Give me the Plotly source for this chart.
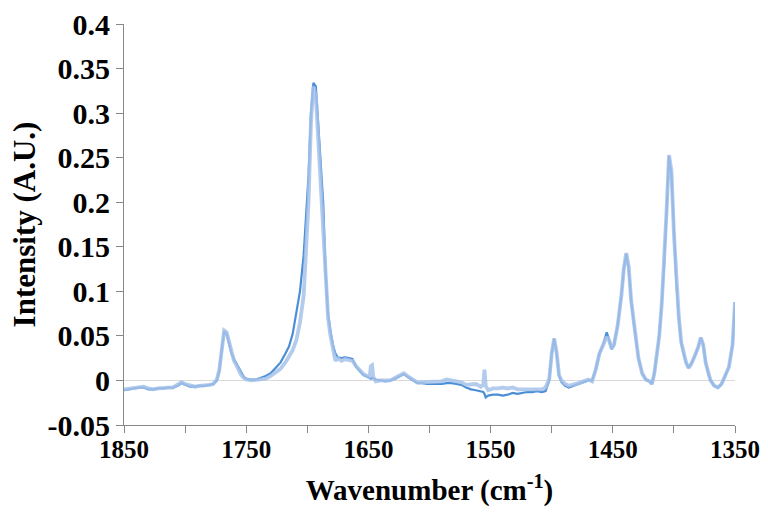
import plotly.graph_objects as go

wavenumber = [
    1850, 1846, 1842, 1838, 1834, 1830, 1826, 1822, 1818, 1814,
    1810, 1806, 1803, 1800, 1796, 1792, 1788, 1784, 1780, 1777,
    1774, 1772, 1770, 1768, 1766, 1764, 1762, 1760, 1758, 1756,
    1754, 1752, 1750, 1746, 1742, 1738, 1734, 1730, 1726, 1722,
    1718, 1715, 1712, 1709, 1706, 1703, 1701, 1699, 1697, 1695,
    1693, 1691, 1689, 1687, 1685, 1683, 1681, 1679, 1677, 1675,
    1672, 1669, 1666, 1663, 1660, 1657, 1654, 1651, 1649, 1648,
    1647, 1646, 1644, 1640, 1636, 1632, 1628, 1624, 1621, 1618,
    1614, 1610, 1606, 1602, 1598, 1594, 1590, 1586, 1582, 1578,
    1574, 1570, 1566, 1562, 1558, 1556, 1555, 1554, 1552, 1548,
    1544, 1540, 1536, 1532, 1528, 1524, 1520, 1516, 1512, 1508,
    1505, 1502, 1500, 1498, 1496, 1494, 1492, 1489, 1486, 1482,
    1478, 1474, 1470, 1467, 1464, 1461, 1458, 1455, 1453, 1451,
    1449, 1446, 1443, 1441, 1439, 1437, 1435, 1432, 1429, 1426,
    1423, 1420, 1418, 1416, 1414, 1412, 1410, 1408, 1406, 1404,
    1402, 1400, 1398, 1396, 1394, 1392, 1390, 1388, 1386, 1384,
    1382, 1380, 1378, 1376, 1374, 1372, 1370, 1367, 1364, 1361,
    1358, 1355, 1352, 1350,
]

spectrum_dark = [
    -0.011, -0.010, -0.009, -0.008, -0.008, -0.010, -0.010, -0.009, -0.009, -0.008,
    -0.008, -0.006, -0.003, -0.005, -0.007, -0.007, -0.006, -0.006, -0.005, -0.004,
    0.000, 0.010, 0.035, 0.055, 0.052, 0.040, 0.030, 0.024, 0.019, 0.013,
    0.008, 0.004, 0.002, 0.001, 0.001, 0.003, 0.005, 0.008, 0.014, 0.020,
    0.030, 0.038, 0.052, 0.075, 0.100, 0.140, 0.180, 0.230, 0.300, 0.334,
    0.330, 0.290, 0.250, 0.200, 0.120, 0.075, 0.055, 0.040, 0.030, 0.026,
    0.025, 0.026, 0.025, 0.024, 0.015, 0.010, 0.006, 0.004, 0.003, 0.002,
    0.003, 0.002, 0.001, 0.000, -0.001, 0.000, 0.002, 0.005, 0.007, 0.004,
    0.000, -0.003, -0.003, -0.004, -0.004, -0.004, -0.004, -0.003, -0.003, -0.004,
    -0.005, -0.008, -0.010, -0.011, -0.012, -0.013, -0.015, -0.019, -0.017, -0.016,
    -0.016, -0.017, -0.016, -0.014, -0.015, -0.014, -0.013, -0.013, -0.012, -0.013,
    -0.012, 0.000, 0.030, 0.047, 0.030, 0.005, -0.002, -0.006, -0.008, -0.006,
    -0.004, -0.002, 0.000, 0.000, 0.012, 0.030, 0.040, 0.054, 0.046, 0.035,
    0.040, 0.062, 0.095, 0.125, 0.142, 0.125, 0.090, 0.055, 0.025, 0.008,
    0.001, -0.001, -0.004, 0.008, 0.027, 0.050, 0.085, 0.130, 0.190, 0.252,
    0.230, 0.160, 0.110, 0.070, 0.042, 0.030, 0.020, 0.014, 0.018, 0.024,
    0.030, 0.038, 0.048, 0.040, 0.020, 0.008, 0.000, -0.006, -0.008, -0.004,
    0.005, 0.015, 0.040, 0.088,
]

spectrum_light = [
    -0.010, -0.009, -0.008, -0.007, -0.007, -0.009, -0.010, -0.009, -0.008, -0.008,
    -0.008, -0.005, -0.002, -0.004, -0.006, -0.007, -0.006, -0.006, -0.005, -0.004,
    0.001, 0.012, 0.038, 0.056, 0.054, 0.042, 0.030, 0.022, 0.017, 0.011,
    0.006, 0.003, 0.001, 0.000, 0.001, 0.001, 0.002, 0.005, 0.009, 0.013,
    0.020, 0.027, 0.034, 0.045, 0.065, 0.095, 0.140, 0.200, 0.290, 0.330,
    0.320, 0.270, 0.220, 0.170, 0.110, 0.070, 0.050, 0.038, 0.022, 0.025,
    0.022, 0.024, 0.023, 0.022, 0.016, 0.011, 0.007, 0.005, 0.004, 0.016,
    0.017, 0.004, -0.001, 0.000, 0.000, 0.000, 0.003, 0.006, 0.008, 0.005,
    0.001, -0.002, -0.002, -0.002, -0.002, -0.001, -0.001, 0.001, 0.000, 0.000,
    -0.002, -0.005, -0.005, -0.004, -0.007, -0.005, 0.012, -0.006, -0.011, -0.009,
    -0.009, -0.008, -0.009, -0.008, -0.010, -0.010, -0.009, -0.010, -0.009, -0.010,
    -0.008, 0.002, 0.030, 0.047, 0.032, 0.006, 0.000, -0.004, -0.006, -0.005,
    -0.003, -0.001, 0.001, -0.001, 0.012, 0.030, 0.040, 0.049, 0.045, 0.036,
    0.040, 0.062, 0.095, 0.125, 0.143, 0.128, 0.090, 0.055, 0.025, 0.008,
    0.001, -0.001, -0.004, 0.008, 0.027, 0.050, 0.085, 0.130, 0.190, 0.253,
    0.235, 0.165, 0.112, 0.072, 0.043, 0.030, 0.020, 0.014, 0.018, 0.024,
    0.030, 0.038, 0.048, 0.040, 0.020, 0.008, 0.000, -0.006, -0.008, -0.004,
    0.005, 0.015, 0.040, 0.088,
]

assert len(wavenumber) == len(spectrum_dark) == len(spectrum_light)

x_tickvals = [1850, 1800, 1750, 1700, 1650, 1600, 1550, 1500, 1450, 1400, 1350]
x_ticktext = ["1850", "", "1750", "", "1650", "", "1550", "", "1450", "", "1350"]
y_tickvals = [-0.05, 0, 0.05, 0.1, 0.15, 0.2, 0.25, 0.3, 0.35, 0.4]
y_ticktext = ["-0.05", "0", "0.05", "0.1", "0.15", "0.2", "0.25", "0.3", "0.35", "0.4"]

fig = go.Figure()
fig.add_trace(go.Scatter(
    x=wavenumber, y=spectrum_dark, mode="lines",
    line=dict(color="#4A8ED6", width=2.2), showlegend=False,
))
fig.add_trace(go.Scatter(
    x=wavenumber, y=spectrum_light, mode="lines",
    line=dict(color="#A6C2EA", width=3.8), opacity=0.85, showlegend=False,
))

fig.update_layout(
    width=768, height=512,
    margin=dict(l=124, r=33, t=24, b=87),
    paper_bgcolor="white", plot_bgcolor="white",
    xaxis=dict(
        range=[1850, 1350], tickvals=x_tickvals, ticktext=x_ticktext,
        ticks="outside", ticklen=7, tickcolor="#888888", tickwidth=1,
        showline=True, linecolor="#888888", linewidth=1, automargin=False,
        showgrid=False, zeroline=False, ticklabelstandoff=-5,
        tickfont=dict(family="Liberation Serif", size=25, color="black", weight="bold"),
        title=dict(text="<b>Wavenumber (cm<sup>-1</sup>)</b>",
                   font=dict(family="Liberation Serif", size=29, color="black"),
                   standoff=17),
    ),
    yaxis=dict(
        range=[-0.05, 0.4], tickvals=y_tickvals, ticktext=y_ticktext,
        ticks="outside", ticklen=7, tickcolor="#888888", tickwidth=1,
        showline=True, linecolor="#888888", linewidth=1, automargin=False,
        showgrid=False, zeroline=True, zerolinecolor="#D9D9D9", zerolinewidth=1,
        tickfont=dict(family="Liberation Serif", size=30, color="black", weight="bold"),
        title=dict(text="<b>Intensity (A.U.)</b>",
                   font=dict(family="Liberation Serif", size=31, color="black"),
                   standoff=2),
    ),
)

fig.write_html("out.html")
